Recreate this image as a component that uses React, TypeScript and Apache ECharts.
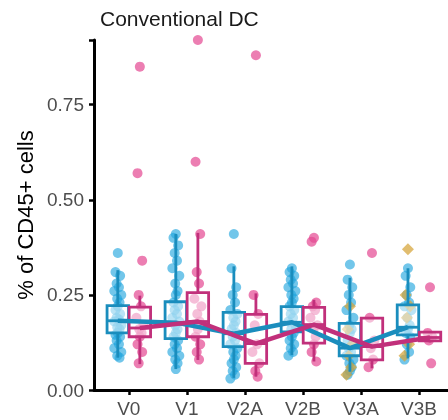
import React, { useEffect, useRef } from "react";
import * as echarts from "echarts";

const categories = ["V0", "V1", "V2A", "V2B", "V3A", "V3B"];
const yTicks = [0, 0.25, 0.5, 0.75];

// box stats: [min, q1, median, q3, max]
const blueBoxes = [
  [0.085, 0.15, 0.182, 0.222, 0.315],
  [0.055, 0.135, 0.177, 0.232, 0.41],
  [0.032, 0.114, 0.148, 0.204, 0.325],
  [0.092, 0.153, 0.178, 0.219, 0.325],
  [0.048, 0.09, 0.11, 0.175, 0.295],
  [0.083, 0.145, 0.165, 0.224, 0.32],
];
const pinkBoxes = [
  [0.068, 0.14, 0.163, 0.218, 0.248],
  [0.079, 0.14, 0.18, 0.256, 0.413],
  [0.035, 0.07, 0.122, 0.199, 0.254],
  [0.075, 0.123, 0.172, 0.217, 0.237],
  [0.057, 0.079, 0.114, 0.189, 0.189],
  [0.125, 0.129, 0.138, 0.152, 0.155],
];

const bluePoints = [
  [0.36, 0.31, 0.3, 0.28, 0.27, 0.26, 0.25, 0.24, 0.23, 0.22, 0.21, 0.2, 0.19, 0.185, 0.18, 0.17, 0.165, 0.16, 0.15, 0.145, 0.14, 0.13, 0.12, 0.11, 0.1, 0.09, 0.085],
  [0.41, 0.4, 0.38, 0.36, 0.34, 0.32, 0.3, 0.28, 0.26, 0.25, 0.23, 0.22, 0.21, 0.2, 0.19, 0.18, 0.17, 0.16, 0.15, 0.14, 0.13, 0.12, 0.11, 0.1, 0.09, 0.08, 0.07, 0.055],
  [0.41, 0.32, 0.27, 0.25, 0.23, 0.21, 0.2, 0.19, 0.18, 0.17, 0.16, 0.15, 0.14, 0.13, 0.12, 0.11, 0.1, 0.09, 0.08, 0.07, 0.06, 0.05, 0.04, 0.03],
  [0.32, 0.31, 0.3, 0.29, 0.28, 0.27, 0.26, 0.25, 0.24, 0.23, 0.22, 0.21, 0.2, 0.19, 0.18, 0.17, 0.16, 0.15, 0.14, 0.13, 0.12, 0.11, 0.1, 0.09],
  [0.33, 0.29, 0.27, 0.25, 0.23, 0.21, 0.19, 0.17, 0.16, 0.15, 0.13, 0.12, 0.11, 0.1, 0.09, 0.08, 0.07, 0.06, 0.05, 0.04],
  [0.32, 0.3, 0.27, 0.25, 0.23, 0.22, 0.21, 0.19, 0.17, 0.16, 0.15, 0.14, 0.12, 0.1, 0.08],
];
const goldPoints = [[], [], [], [], [0.22, 0.16, 0.12, 0.09, 0.06, 0.04], [0.37, 0.25, 0.22, 0.19, 0.12, 0.09]];
const pinkPoints = [
  [0.85, 0.57, 0.34, 0.25, 0.22, 0.19, 0.17, 0.16, 0.15, 0.14, 0.12, 0.1, 0.07],
  [0.92, 0.6, 0.41, 0.31, 0.28, 0.24, 0.22, 0.2, 0.18, 0.16, 0.14, 0.12, 0.1, 0.08],
  [0.88, 0.25, 0.2, 0.17, 0.12, 0.1, 0.07, 0.05, 0.035],
  [0.4, 0.39, 0.23, 0.22, 0.21, 0.19, 0.17, 0.16, 0.14, 0.12, 0.1, 0.075],
  [0.36, 0.19, 0.13, 0.11, 0.08, 0.06],
  [0.27, 0.15, 0.14, 0.13, 0.07],
];

const BLUE_PT = "rgba(34,166,222,0.8)";
const BLUE_DK = "#1a8dbd";
const PINK_PT = "rgba(228,72,146,0.88)";
const PINK_DK = "#c1307b";
const GOLD_PT = "rgba(214,164,56,0.9)";
const DODGE = 0.19;
const BOX_W = 0.37;
const JIT = [0, -0.04, 0.04, -0.02, 0.02, -0.06, 0.06, -0.01, 0.03];
const FONT = "Liberation Sans, Arial, sans-serif";

function pts(groups: number[][], off: number) {
  const out: number[][] = [];
  groups.forEach((g, ci) => g.forEach((v, i) => out.push([ci + off + JIT[i % JIT.length], v])));
  return out;
}

function boxSeries(boxes: number[][], off: number, color: string) {
  return {
    type: "custom",
    z: 3,
    encode: { x: 0, y: [1, 2, 3, 4, 5] },
    data: boxes.map((b, ci) => [ci + off, ...b]),
    renderItem: (params: any, api: any) => {
      const x = api.value(0);
      const lo = api.coord([x, api.value(1)]);
      const q1 = api.coord([x, api.value(2)]);
      const med = api.coord([x, api.value(3)]);
      const q3 = api.coord([x, api.value(4)]);
      const hi = api.coord([x, api.value(5)]);
      const left = api.coord([x - BOX_W / 2, 0])[0];
      const right = api.coord([x + BOX_W / 2, 0])[0];
      const st = { stroke: color, lineWidth: 2.8 };
      return {
        type: "group",
        children: [
          { type: "line", shape: { x1: lo[0], y1: lo[1], x2: q1[0], y2: q1[1] }, style: st },
          { type: "line", shape: { x1: q3[0], y1: q3[1], x2: hi[0], y2: hi[1] }, style: st },
          {
            type: "rect",
            shape: { x: left, y: q3[1], width: right - left, height: q1[1] - q3[1] },
            style: { fill: "rgba(255,255,255,0.5)", stroke: color, lineWidth: 2.8 },
          },
          { type: "line", shape: { x1: left, y1: med[1], x2: right, y2: med[1] }, style: st },
        ],
      };
    },
  };
}

export default function App() {
  const ref = useRef<HTMLDivElement>(null);
  useEffect(() => {
    if (!ref.current) return;
    const chart = echarts.init(ref.current, null, { renderer: "svg" });
    const idx = categories.map((_, i) => i);
    chart.setOption({
      animation: false,
      title: {
        text: "Conventional DC",
        left: 95,
        top: 3,
        textStyle: { fontFamily: FONT, fontSize: 21, fontWeight: "normal", color: "#1a1a1a" },
      },
      grid: { left: 94, right: 0, top: 40, bottom: 30 },
      xAxis: {
        type: "value",
        min: -0.6,
        max: 5.5,
        splitLine: { show: false },
        axisLine: { show: true, onZero: false, lineStyle: { color: "#000", width: 3 } },
        axisTick: { show: true, customValues: idx, length: 5, lineStyle: { color: "#000", width: 2.5 } },
        axisLabel: {
          customValues: idx,
          formatter: (v: number) => categories[Math.round(v)] ?? "",
          margin: 9,
          fontFamily: FONT,
          fontSize: 19,
          color: "#4d4d4d",
        },
      },
      yAxis: {
        type: "value",
        min: 0,
        max: 0.92,
        interval: 0.25,
        name: "% of CD45+ cells",
        nameLocation: "middle",
        nameRotate: 90,
        nameGap: 56,
        nameTextStyle: { fontFamily: FONT, fontSize: 22, color: "#000" },
        splitLine: { show: false },
        axisLine: { show: true, onZero: false, lineStyle: { color: "#000", width: 3 } },
        axisTick: { show: true, length: 5, lineStyle: { color: "#000", width: 2.5 } },
        axisLabel: {
          customValues: yTicks,
          formatter: (v: number) => v.toFixed(2),
          margin: 10,
          fontFamily: FONT,
          fontSize: 19,
          color: "#4d4d4d",
        },
      },
      series: [
        { type: "scatter", z: 2, symbolSize: 10, itemStyle: { color: BLUE_PT }, data: pts(bluePoints, -DODGE) },
        { type: "scatter", z: 2, symbol: "diamond", symbolSize: 12, itemStyle: { color: GOLD_PT }, data: pts(goldPoints, -DODGE) },
        { type: "scatter", z: 2, symbolSize: 10, itemStyle: { color: PINK_PT }, data: pts(pinkPoints, DODGE) },
        boxSeries(blueBoxes, -DODGE, BLUE_DK),
        boxSeries(pinkBoxes, DODGE, PINK_DK),
        {
          type: "line",
          z: 4,
          symbol: "none",
          lineStyle: { color: BLUE_DK, width: 4.5 },
          data: blueBoxes.map((b, i) => [i - DODGE, b[2]]),
        },
        {
          type: "line",
          z: 4,
          symbol: "none",
          lineStyle: { color: PINK_DK, width: 4.5 },
          data: pinkBoxes.map((b, i) => [i + DODGE, b[2]]),
        },
      ],
    });
    return () => chart.dispose();
  }, []);
  return <div ref={ref} style={{ position: "fixed", left: 0, top: 0, width: 448, height: 420 }} />;
}
